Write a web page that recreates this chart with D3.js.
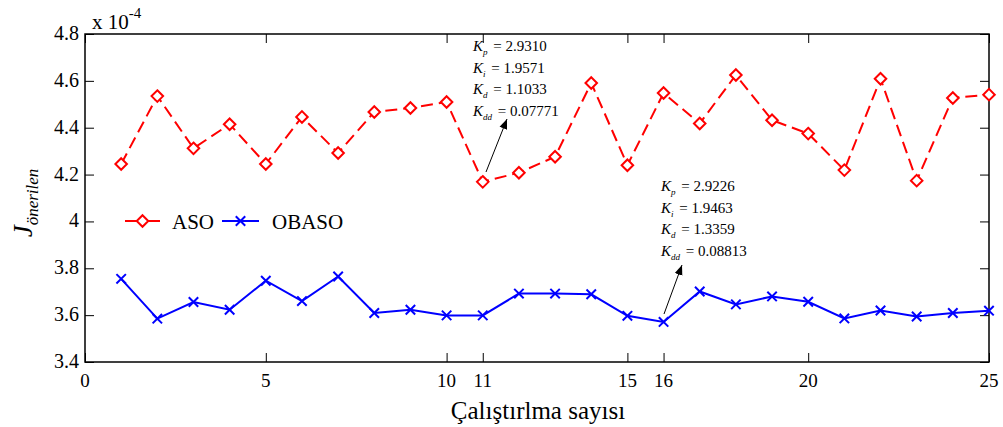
<!DOCTYPE html>
<html>
<head>
<meta charset="utf-8">
<script src="https://cdn.jsdelivr.net/npm/d3@7"></script>
<style>
  body { margin: 0; background: #fff; }
</style>
</head>
<body>
<svg id="chart" width="1003" height="427"></svg>
<script>
// run number 1..25
var runs = d3.range(1, 26);
// values are x 10^-4
var aso = [4.245, 4.535, 4.312, 4.415, 4.245, 4.446, 4.292, 4.467, 4.484, 4.510,
           4.169, 4.208, 4.276, 4.591, 4.240, 4.548, 4.418, 4.625, 4.432, 4.375,
           4.219, 4.609, 4.174, 4.527, 4.541];
var obaso = [3.755, 3.585, 3.656, 3.623, 3.747, 3.660, 3.765, 3.609, 3.623, 3.599,
             3.599, 3.692, 3.692, 3.689, 3.597, 3.571, 3.701, 3.646, 3.680, 3.657,
             3.586, 3.620, 3.594, 3.609, 3.619];
var xTicks = [0, 5, 10, 11, 15, 16, 20, 25];
var yTicks = [3.4, 3.6, 3.8, 4, 4.2, 4.4, 4.6, 4.8];

// annotation blocks: [name, value]
var note11 = [["p", "2.9310"], ["i", "1.9571"], ["d", "1.1033"], ["dd", "0.07771"]];
var note16 = [["p", "2.9226"], ["i", "1.9463"], ["d", "1.3359"], ["dd", "0.08813"]];

var FONT = "'Liberation Serif', 'Times New Roman', serif";
var svg = d3.select("#chart").style("font-family", FONT);
var margin = {left: 85, right: 14, top: 34, bottom: 65};
var W = 1003, H = 427;

var x = d3.scaleLinear().domain([0, 25]).range([margin.left, W - margin.right]);
var y = d3.scaleLinear().domain([3.4, 4.8]).range([H - margin.bottom, margin.top]);

var tickLen = 9;

// axes, ticks pointing inward
svg.append("g")
    .attr("transform", "translate(0," + y(3.4) + ")")
    .call(d3.axisTop(x).tickValues(xTicks).tickSize(tickLen).tickFormat(""))
    .call(g => g.select(".domain").remove());
svg.append("g")
    .attr("transform", "translate(0," + y(4.8) + ")")
    .call(d3.axisBottom(x).tickValues(xTicks).tickSize(tickLen).tickFormat(""))
    .call(g => g.select(".domain").remove());
svg.append("g")
    .attr("transform", "translate(" + x(0) + ",0)")
    .call(d3.axisRight(y).tickValues(yTicks).tickSize(tickLen).tickFormat(""))
    .call(g => g.select(".domain").remove());
svg.append("g")
    .attr("transform", "translate(" + x(25) + ",0)")
    .call(d3.axisLeft(y).tickValues(yTicks).tickSize(tickLen).tickFormat(""))
    .call(g => g.select(".domain").remove());
svg.selectAll(".tick line").attr("stroke", "#000").attr("stroke-width", 1);

svg.append("rect")
    .attr("x", x(0)).attr("y", y(4.8))
    .attr("width", x(25) - x(0)).attr("height", y(3.4) - y(4.8))
    .attr("fill", "none").attr("stroke", "#000").attr("stroke-width", 1.5);

// tick labels
svg.append("g").selectAll("text")
    .data(xTicks).enter().append("text")
    .attr("x", d => x(d)).attr("y", y(3.4) + 25)
    .attr("text-anchor", "middle").attr("font-size", 19)
    .style("font-family", FONT)
    .text(d => d);
svg.append("g").selectAll("text")
    .data(yTicks).enter().append("text")
    .attr("x", x(0) - 6).attr("y", d => y(d) + 6)
    .attr("text-anchor", "end").attr("font-size", 20)
    .style("font-family", FONT)
    .text(d => d3.format(".1f")(d).replace(".0", ""));

// exponent
var ex = svg.append("text").attr("x", x(0) + 7).attr("y", y(4.8) - 5)
    .attr("font-size", 21).style("font-family", FONT);
ex.append("tspan").text("x 10");
ex.append("tspan").attr("dy", -11).attr("font-size", 15).text("-4");

// axis titles
svg.append("text")
    .attr("x", 538).attr("y", 419)
    .attr("text-anchor", "middle").attr("font-size", 25)
    .style("font-family", FONT)
    .text("Çalıştırlma sayısı");
var yl = svg.append("text")
    .attr("transform", "translate(32," + ((y(3.4) + y(4.8)) / 2 + 5) + ") rotate(-90)")
    .attr("text-anchor", "middle").attr("font-style", "italic").attr("font-size", 27)
    .style("font-family", FONT);
yl.append("tspan").text("J");
yl.append("tspan").attr("dy", 6).attr("font-size", 17).text("önerilen");

var line = d3.line().x((d, i) => x(runs[i])).y(d => y(d));

// ASO
svg.append("path").datum(aso)
    .attr("d", line).attr("fill", "none")
    .attr("stroke", "#ff0000").attr("stroke-width", 2).attr("stroke-dasharray", "12,6");
var diamond = d3.symbol().type(d3.symbolDiamond2).size(85);
svg.append("g").selectAll("path")
    .data(aso).enter().append("path")
    .attr("transform", (d, i) => "translate(" + x(runs[i]) + "," + y(d) + ")")
    .attr("d", diamond).attr("fill", "#fff").attr("stroke", "#ff0000").attr("stroke-width", 2);

// OBASO
svg.append("path").datum(obaso)
    .attr("d", line).attr("fill", "none")
    .attr("stroke", "#0000ff").attr("stroke-width", 2);
var cross = d3.symbol().type(d3.symbolX).size(60);
svg.append("g").selectAll("path")
    .data(obaso).enter().append("path")
    .attr("transform", (d, i) => "translate(" + x(runs[i]) + "," + y(d) + ")")
    .attr("d", cross).attr("fill", "none").attr("stroke", "#0000ff").attr("stroke-width", 2);

// legend
var leg = svg.append("g").attr("transform", "translate(125,221)");
leg.append("line").attr("x1", 0).attr("x2", 35).attr("stroke", "#ff0000").attr("stroke-width", 2);
leg.append("path").attr("transform", "translate(17.5,0)").attr("d", diamond)
    .attr("fill", "#fff").attr("stroke", "#ff0000").attr("stroke-width", 2);
leg.append("text").attr("x", 47).attr("y", 8).attr("font-size", 21).style("font-family", FONT).text("ASO");
leg.append("line").attr("x1", 97).attr("x2", 134).attr("stroke", "#0000ff").attr("stroke-width", 2);
leg.append("path").attr("transform", "translate(115.5,0)").attr("d", cross)
    .attr("fill", "none").attr("stroke", "#0000ff").attr("stroke-width", 2);
leg.append("text").attr("x", 147).attr("y", 8).attr("font-size", 21).style("font-family", FONT).text("OBASO");

// annotations
svg.append("defs").append("marker")
    .attr("id", "arrow").attr("viewBox", "0 0 10 10")
    .attr("refX", 10).attr("refY", 5)
    .attr("markerWidth", 10).attr("markerHeight", 10)
    .attr("markerUnits", "userSpaceOnUse")
    .attr("orient", "auto")
    .append("path").attr("d", "M0,1 L10,5 L0,9 Z").attr("fill", "#000");

function note(data, left, top, tail, tip) {
    var g = svg.append("g");
    data.forEach(function(r, i) {
        var t = g.append("text").attr("x", left).attr("y", top + i * 21.7)
            .attr("font-size", 15).style("font-family", FONT);
        t.append("tspan").attr("font-style", "italic").text("K");
        t.append("tspan").attr("dy", 4).attr("font-size", 9).attr("font-style", "italic").text(r[0]);
        t.append("tspan").attr("dy", -4).attr("dx", 2).text(" = " + r[1]);
    });
    g.append("line")
        .attr("x1", tail[0]).attr("y1", tail[1])
        .attr("x2", tip[0]).attr("y2", tip[1])
        .attr("stroke", "#000").attr("stroke-width", 1)
        .attr("marker-end", "url(#arrow)");
}
note(note11, 473, 51, [486, 172], [507, 119]);
note(note16, 661, 191, [664, 314], [682, 265]);
</script>
</body>
</html>
